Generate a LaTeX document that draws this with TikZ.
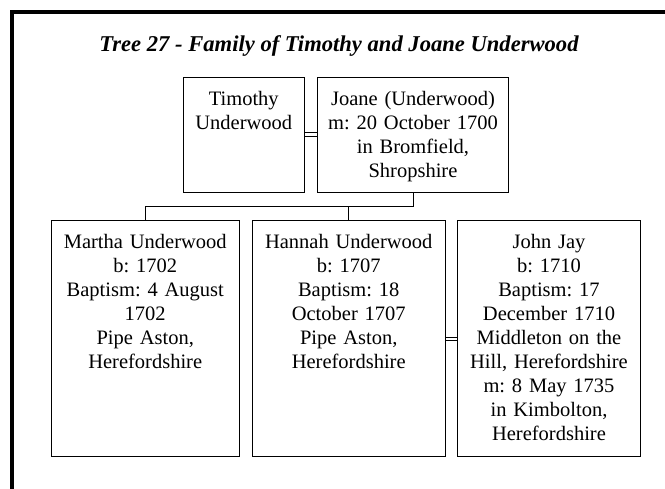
\documentclass[tikz,border=0pt]{standalone}
\usepackage{fontspec}
\setmainfont{Liberation Serif}
\frenchspacing
\begin{document}
\begin{tikzpicture}[x=1pt,y=-1pt,
  person/.style={draw=black, line width=1pt, inner sep=0pt, anchor=north west},
  info/.style={anchor=north, inner sep=0pt, align=center,
    font=\fontsize{20.5}{24.1}\selectfont},
  link/.style={draw=black, line width=1pt},
  frame/.style={draw=black, line width=4pt, line join=miter}]
\useasboundingbox (0,0) rectangle (665,489);

% outer frame (top and left edges)
\coordinate (fb) at (12,491);
\coordinate (fc) at (12,12);
\coordinate (fr) at (667,12);
\draw[frame] (fb) -- (fc) -- (fr);

% title
\node[anchor=base, inner sep=0pt,
  font=\fontsize{22.6}{25}\selectfont\bfseries\itshape] (title) at (339,51.7)
  {Tree 27 - Family of Timothy and Joane Underwood};

% parents
\node[person, minimum width=120.5pt, minimum height=115pt] (tim) at (183,77.5) {};
\node[person, minimum width=191pt, minimum height=115pt] (joane) at (317,77.5) {};
\node[info, text width=120.5pt] (timT) at (tim.north)
  {\rule{0pt}{27.5pt}Timothy\\Underwood};
\node[info, text width=191pt] (joaneT) at (joane.north)
  {\rule{0pt}{27.5pt}Joane (Underwood)\\m: 20 October 1700\\in Bromfield,\\Shropshire};

% children
\node[person, minimum width=187.5pt, minimum height=236pt] (martha) at (51,220.5) {};
\node[person, minimum width=192.5pt, minimum height=236pt] (hannah) at (252,220.5) {};
\node[person, minimum width=183pt, minimum height=236pt] (john) at (457,220.5) {};
\node[info, text width=187.5pt] (marthaT) at (martha.north)
  {\rule{0pt}{27.5pt}Martha Underwood\\b: 1702\\Baptism: 4 August\\1702\\Pipe Aston,\\Herefordshire};
\node[info, text width=192.5pt] (hannahT) at (hannah.north)
  {\rule{0pt}{27.5pt}Hannah Underwood\\b: 1707\\Baptism: 18\\October 1707\\Pipe Aston,\\Herefordshire};
\node[info, text width=183pt] (johnT) at (john.north)
  {\rule{0pt}{27.5pt}John Jay\\b: 1710\\Baptism: 17\\December 1710\\Middleton on the\\Hill, Herefordshire\\m: 8 May 1735\\in Kimbolton,\\Herefordshire};

% marriage links (double lines)
\draw[link] (tim.east |- 0,133) -- (joane.west |- 0,133);
\draw[link] (tim.east |- 0,136.5) -- (joane.west |- 0,136.5);
\draw[link] (hannah.east |- 0,337.5) -- (john.west |- 0,337.5);
\draw[link] (hannah.east |- 0,341) -- (john.west |- 0,341);

% descent lines
\coordinate (bar) at (0,206.5);
\draw[link] (joane.south) -- (joane.south |- bar) -- (martha.north |- bar) -- (martha.north);
\draw[link] (hannah.north |- bar) -- (hannah.north);
\end{tikzpicture}
\end{document}
